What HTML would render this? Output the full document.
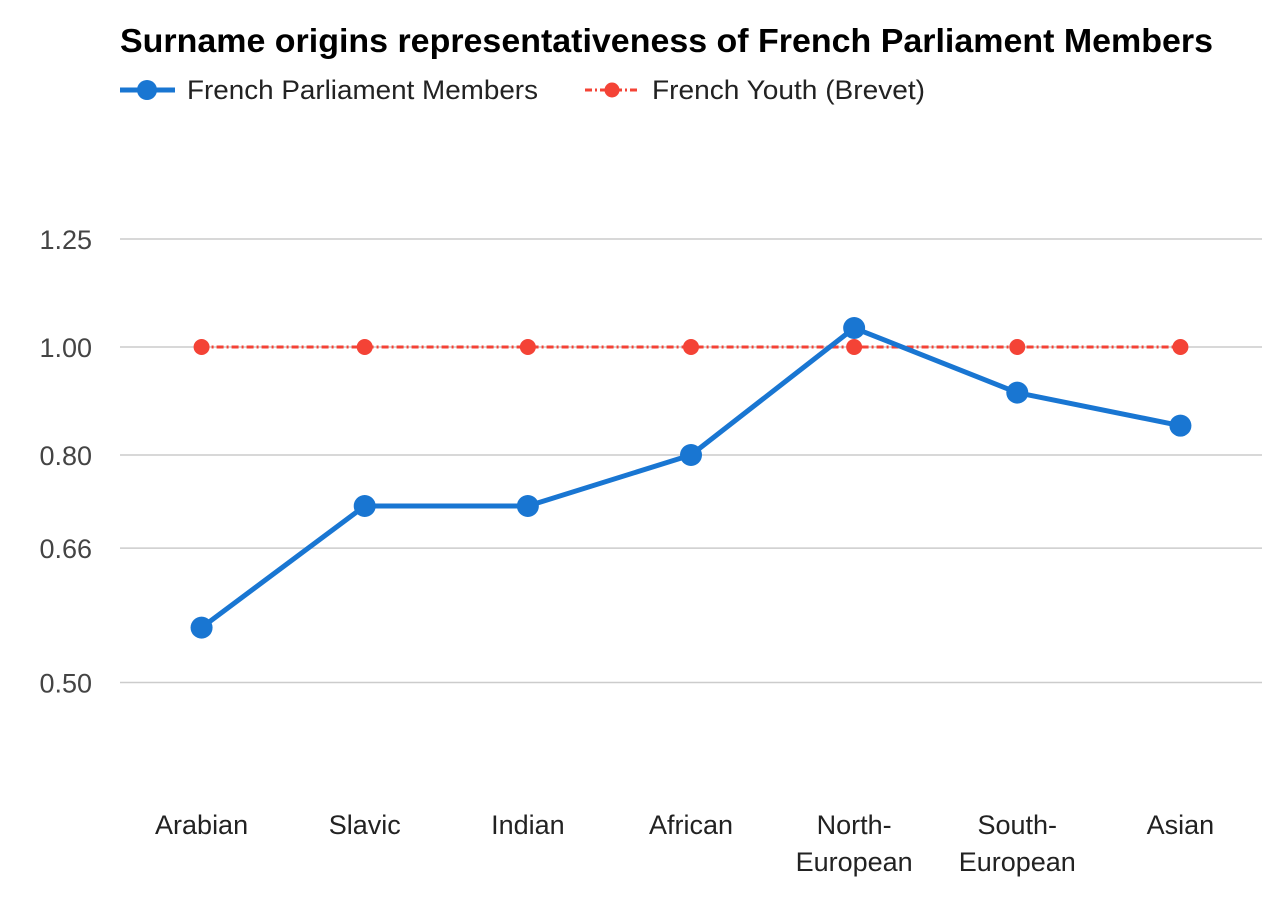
<!DOCTYPE html>
<html><head><meta charset="utf-8"><style>
body{margin:0;background:#fff;font-family:"Liberation Sans",Arial,sans-serif;}
</style></head><body>
<svg width="1272" height="894" id="chart" xmlns="http://www.w3.org/2000/svg">
<text x="120" y="52" font-size="33" font-weight="bold" fill="#000" textLength="1093" lengthAdjust="spacingAndGlyphs">Surname origins representativeness of French Parliament Members</text>
<g>
<line x1="120" y1="90" x2="175" y2="90" stroke="#1976d2" stroke-width="5"/>
<circle cx="147" cy="90" r="10" fill="#1976d2"/>
<text x="187" y="99" font-size="27" fill="#222" textLength="351" lengthAdjust="spacingAndGlyphs">French Parliament Members</text>
</g>
<g>
<line x1="585" y1="90" x2="640" y2="90" stroke="#f44336" stroke-width="3" stroke-dasharray="7,3,2,3"/>
<circle cx="612" cy="90" r="7.5" fill="#f44336"/>
<text x="652" y="99" font-size="27" fill="#222" textLength="273" lengthAdjust="spacingAndGlyphs">French Youth (Brevet)</text>
</g>
<g id="grid"></g><g id="series"></g>
</svg>
<script>
const categories=["Arabian","Slavic","Indian","African","North-European","South-European","Asian"];
const parliamentValues=[0.56,0.72,0.72,0.80,1.04,0.91,0.85];
const youthValues=[1,1,1,1,1,1,1];
const tickValues=[0.5,0.66,0.8,1.0,1.25];
const tickLabels=["0.50","0.66","0.80","1.00","1.25"];
const NS="http://www.w3.org/2000/svg";
const left=120,right=1262,y1Pix=347,scale=484;
function yScale(v){return y1Pix-Math.log(v)*scale;}
const band=(right-left)/categories.length;
function xScale(i){return left+band*(i+0.5);}
function mk(t,a,p){const e=document.createElementNS(NS,t);for(const k in a)e.setAttribute(k,a[k]);p.appendChild(e);return e;}
const grid=document.getElementById('grid'),ser=document.getElementById('series');
tickValues.forEach((v,i)=>{
 const y=yScale(v);
 const l=mk('line',{x1:left,x2:right,y1:y,y2:y,stroke:'#ccc','stroke-width':1.5},grid);
 
 
 const t=mk('text',{x:92,y:y+10,'font-size':27,fill:'#444','text-anchor':'end'},grid);
 t.textContent=tickLabels[i];
 
 
});
categories.forEach((c,i)=>{
 const parts=c.includes('-')?[c.split('-')[0]+'-',c.split('-')[1]]:[c];
 const t=mk('text',{x:xScale(i),y:834,'font-size':27,fill:'#222','text-anchor':'middle'},grid);
 
 
 parts.forEach((p,j)=>{const s=mk('tspan',{x:xScale(i),dy:j?37:0},t);s.textContent=p;});
});
const yp=mk('polyline',{points:youthValues.map((v,i)=>xScale(i)+','+yScale(v)).join(' '),fill:'none',stroke:'#f44336','stroke-width':3,'stroke-dasharray':'7,3,2,3'},ser);


youthValues.forEach((v,i)=>{const c=mk('circle',{cx:xScale(i),cy:yScale(v),r:8,fill:'#f44336'},ser);
 
 });
const pp=mk('polyline',{points:parliamentValues.map((v,i)=>xScale(i)+','+yScale(v)).join(' '),fill:'none',stroke:'#1976d2','stroke-width':5,'stroke-linejoin':'round'},ser);


parliamentValues.forEach((v,i)=>{const c=mk('circle',{cx:xScale(i),cy:yScale(v),r:11,fill:'#1976d2'},ser);
 
 });
</script>
</body></html>
